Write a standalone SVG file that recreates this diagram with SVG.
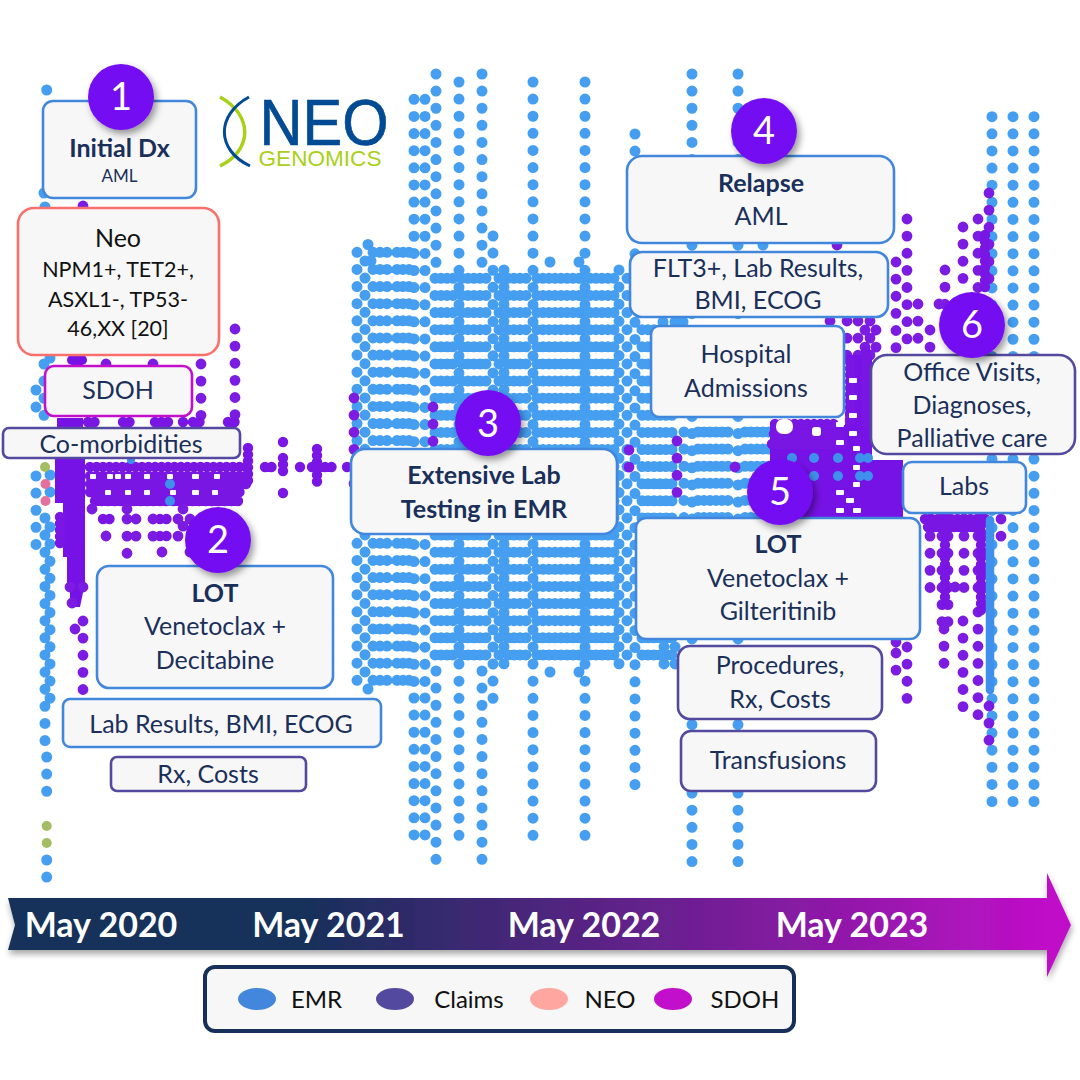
<svg xmlns="http://www.w3.org/2000/svg" width="1080" height="1080" viewBox="0 0 1080 1080">
<style>
text{font-family:Lato,"Noto Sans",sans-serif;fill:#1A2F5A;text-anchor:middle;font-size:25px}
.b{font-weight:700}
.e,.p,.pr{fill:none;stroke-linecap:round}
.e{stroke:#459EF0;stroke-width:11;stroke-dasharray:0 17.12}
.p{stroke:#7C1CE2;stroke-width:10.8;stroke-dasharray:0 17.12}
.pr{stroke:#7A16E4;stroke-width:10.4;stroke-dasharray:0 6.5}
.s{fill:#7612E6}
.h{fill:#fff}
.u{fill:#3E90EC}
.box{fill:#F7F7F7;stroke-width:2.6}
.emr{stroke:#4287DC}.cl{stroke:#534A9F}.ne{stroke:#F96F6B}.sd{stroke:#C20FCB}
.num{fill:#7510F2;filter:url(#sh)}
.dg{fill:#fff;font-size:38px}
.tl{fill:#fff;font-weight:700;font-size:34px}
.lg{fill:#111;font-size:24px}
.nt{font-size:21.5px;fill:#111}
</style>
<defs>
<filter id="sh" x="-30%" y="-30%" width="170%" height="170%"><feDropShadow dx="3" dy="4" stdDeviation="3.5" flood-color="#000" flood-opacity=".4"/></filter>
<filter id="sh2" x="-5%" y="-30%" width="110%" height="170%"><feDropShadow dx="1" dy="4" stdDeviation="3" flood-color="#000" flood-opacity=".35"/></filter>
<linearGradient id="ag" x1="8" x2="1071" y1="0" y2="0" gradientUnits="userSpaceOnUse"><stop offset=".28" stop-color="#17305A"/><stop offset=".98" stop-color="#C00FC8"/></linearGradient>
</defs>

<g id="dots-emr">
<path class="e" d="M357 252.3V682M373 252.3V682M380 252.3V682M387 252.3V682M397 252.3V682M403 252.3V682M409 252.3V682M414 99.3V682M425 99.3V682"/>
<path class="e" d="M365 261V672M371 261V262M368 244.5V245M368 689V690"/>
<path class="e" d="M414 698V835M425 698V835"/>
<path class="e" d="M436 74V263M436 671V862M482 74V263M482 671V862M459 82V850M533 82V850M585 82V850M493 236V699M504 270V664M619 270V664M635 134V801M692 74V862M738 74V862M550 262V263M579 262V263M550 672V673M579 672V673M664 527V664M675 527V664M763 245V246"/>
<path class="e" d="M435 278.3V656M441 278.3V656M447 278.3V656M453 278.3V656M462 278.3V656M468 278.3V656M474 278.3V656M480 278.3V656M486 278.3V656M499 278.3V656M508 278.3V656M514 278.3V656M520 278.3V656M526 278.3V656M537 278.3V656M543 278.3V656M549 278.3V656M555 278.3V656M561 278.3V656M567 278.3V656M573 278.3V656M579 278.3V656M582 278.3V656M590 278.3V656M596 278.3V656M602 278.3V656M608 278.3V656M614 278.3V656M627 278.3V656M642 278.3V656M648 278.3V656M654 278.3V656M660 278.3V656M666 278.3V656M672 278.3V656"/>
<path class="e" d="M684 432V520M698 432V520M704 432V520M710 432V520M716 432V520M722 432V520M728 432V520M745 432V520M751 432V520M757 432V520M763 432V520M769 432V520"/>
<path class="e" d="M663 322V323M675 322V323M683 322V323"/>
<path class="e" d="M992 116.7V818M1013 116.7V818M1034 116.7V818"/>
<path class="e" d="M36 390V424M36 476V545M44 364V417M50 475V493M50 527V699M45 518V742M46.7 757V793M46.7 860V878M46.7 90V91M44 193V194M45 207V208M50 358V359"/>
</g>
<g id="dots-claims">
<path class="p" d="M235 329V417M201 364V417M106 364V365M153 364V365M907 219V340M896 262V348M918 304V340M945 270V305M963 227V280M978 219V288M989 193V290M837 245V246M930 330V348M939 304V305"/>
<path class="p" d="M629 450V468M677 441V502M735 467V468M354 398V500M433 407V442"/>
<path class="p" d="M830 321V322M847 321V356M858 321V356M870 321V356M865 330V348M876 330V348"/>
<path class="p" d="M907 647V715M896 642V643M896 653V673M944 629V665M963 621V707M978 612V715M989 706V742M1001 519V553"/>
<path class="p" d="M930 519V604M942 519V630M948 519V630M955 587V604M964 519V604M978 519V604M985 519V612"/>
<path class="pr" d="M925 519H985M928 527H975M945 519V605M981 519V612M985 235V290"/>
<path class="s" d="M847 355H872V460H903V518H792L770 510V425H845Z"/>
<path class="pr" d="M775 424H840M774 434H845M772 444H845M850 362V425M866 352V425"/>
<rect class="h" x="776" y="419" width="17" height="15" rx="7"/>
<rect class="h" x="812" y="427" width="9" height="9" rx="3"/><rect class="h" x="836" y="422" width="8" height="5" rx="1"/><rect class="h" x="836" y="440" width="8" height="5" rx="1"/>
<rect class="h" x="849" y="378" width="8" height="5" rx="1"/><rect class="h" x="849" y="395" width="8" height="5" rx="1"/><rect class="h" x="849" y="413" width="8" height="5" rx="1"/><rect class="h" x="849" y="431" width="8" height="5" rx="1"/>
<rect class="h" x="853" y="446" width="7" height="5" rx="1"/><rect class="h" x="853" y="465" width="7" height="5" rx="1"/><rect class="h" x="853" y="482" width="7" height="5" rx="1"/>
<rect class="h" x="836" y="490" width="8" height="5" rx="1"/><rect class="h" x="846" y="498" width="8" height="5" rx="1"/><rect class="h" x="836" y="508" width="8" height="5" rx="1"/><rect class="h" x="853" y="508" width="8" height="5" rx="1"/>
<path class="s" d="M55 440H85V583L80 607H70V583H67V557H63V503H55Z"/>
<rect class="s" x="57" y="418" width="26" height="12"/>
<rect class="s" x="67" y="355" width="20" height="10" rx="5"/>
<path class="pr" d="M60 517V547M90 467H250M90 476H250M90 484H250M90 492H240M95 501H240M88 422H97M123 422H133M155 422H170M183 422H188M193 422H201M228 422H240M103 519H113M160 519H167M160 536H167M265 467H272M312 467H333"/>
<g class="h"><rect x="90" y="474" width="6" height="5" rx="1"/><rect x="107" y="474" width="6" height="5" rx="1"/><rect x="115" y="474" width="6" height="5" rx="1"/><rect x="125" y="474" width="6" height="5" rx="1"/><rect x="144" y="474" width="6" height="5" rx="1"/><rect x="167" y="474" width="6" height="5" rx="1"/><rect x="192" y="474" width="7" height="5" rx="1"/><rect x="214" y="474" width="6" height="5" rx="1"/>
<rect x="105" y="490" width="6" height="5" rx="1"/><rect x="125" y="490" width="6" height="5" rx="1"/><rect x="144" y="490" width="6" height="5" rx="1"/><rect x="170" y="490" width="6" height="5" rx="1"/><rect x="192" y="490" width="7" height="5" rx="1"/><rect x="212" y="490" width="6" height="5" rx="1"/></g>
<path class="pr" d="M283 442V443M283 458V477M283 493V494M317 449V485M300 467V468M347 467V468M248 448V484"/>
<path class="p" d="M92 509V510M127 509V510M183 509V527M127 519V560M136 519V553M153 519V553M162 552V553M178 519V553M190 519V520M190 552V553M106 536V553M83 621V690M72 603V604M83 587V588M70 587V588M75 629V630"/>
<path class="p" d="M83 206V207"/>
</g>
<g id="dots-other">
<circle class="u" cx="170" cy="484" r="5"/><circle class="u" cx="170" cy="501" r="5"/><circle class="u" cx="131" cy="460" r="4"/>
<circle class="u" cx="814" cy="458" r="5"/><circle class="u" cx="838" cy="458" r="5"/><circle class="u" cx="860" cy="458" r="5"/><circle class="u" cx="868" cy="458" r="5"/><circle class="u" cx="792" cy="458" r="5"/>
<circle class="u" cx="814" cy="476" r="5"/><circle class="u" cx="838" cy="476" r="5"/><circle class="u" cx="860" cy="476" r="5"/><circle class="u" cx="868" cy="476" r="5"/>
<path d="M990 520V690" stroke="#3E90EC" stroke-width="8.500" stroke-linecap="round" fill="none"/>
<circle cx="45" cy="467" r="5" fill="#A3BD62"/><circle cx="45.500" cy="484" r="5" fill="#E4709F"/><circle cx="45.500" cy="501" r="5" fill="#E4709F"/>
<circle cx="46.700" cy="826" r="5" fill="#A3BD62"/><circle cx="46.700" cy="843" r="5" fill="#A3BD62"/>
</g>

<g id="logo">
<path d="M220 97C253 115 253 150 220 166" fill="none" stroke="#A9D018" stroke-width="3.500"/>
<path d="M249 97C216 115 216 150 250 166" fill="none" stroke="#004B93" stroke-width="3"/>
<text x="324" y="145" textLength="129" lengthAdjust="spacingAndGlyphs" style="font-family:'Liberation Sans',sans-serif;font-size:65px;fill:#004B93;stroke:#004B93;stroke-width:.7">NEO</text>
<text x="320" y="166" textLength="123" lengthAdjust="spacingAndGlyphs" style="font-family:'Liberation Sans',sans-serif;font-size:22px;fill:#A9D018">GENOMICS</text>
</g>

<g id="node-initial"><rect class="box emr" x="43" y="101" width="153" height="97" rx="10"/><text class="b" x="119.500" y="157">Initial Dx</text><text x="119.500" y="182" style="font-size:17px">AML</text></g>
<g id="node-neo"><rect class="box ne" x="18" y="208" width="201" height="147" rx="16"/><text x="118" y="247" style="fill:#111">Neo</text><text class="nt" x="118" y="277">NPM1+, TET2+,</text><text class="nt" x="118" y="307">ASXL1-, TP53-</text><text class="nt" x="118" y="336">46,XX [20]</text></g>
<g id="node-sdoh"><rect class="box sd" x="45" y="366" width="147" height="50" rx="9"/><text x="118" y="399">SDOH</text></g>
<g id="node-comorb"><rect class="box cl" x="3" y="428" width="237" height="30" rx="6"/><text x="121" y="453">Co-morbidities</text></g>
<g id="node-lot1"><rect class="box emr" x="97" y="566" width="236" height="122" rx="12"/><text class="b" x="215" y="602">LOT</text><text x="215" y="635">Venetoclax +</text><text x="215" y="669">Decitabine</text></g>
<g id="node-lab1"><rect class="box emr" x="63" y="699" width="318" height="48" rx="7"/><text x="221" y="733">Lab Results, BMI, ECOG</text></g>
<g id="node-rx1"><rect class="box cl" x="111" y="757" width="195" height="34" rx="6"/><text x="208" y="783">Rx, Costs</text></g>
<g id="node-ext"><rect class="box emr" x="351" y="449" width="266" height="85" rx="14"/><text class="b" x="484" y="484">Extensive Lab</text><text class="b" x="484" y="518">Testing in EMR</text></g>
<g id="node-relapse"><rect class="box emr" x="627" y="156" width="267" height="87" rx="15"/><text class="b" x="761" y="192">Relapse</text><text x="761" y="225">AML</text></g>
<g id="node-flt3"><rect class="box emr" x="630" y="252" width="258" height="65" rx="12"/><text x="758" y="277">FLT3+, Lab Results,</text><text x="758" y="309">BMI, ECOG</text></g>
<g id="node-hosp"><rect class="box emr" x="651" y="326" width="193" height="91" rx="8"/><text x="746" y="363">Hospital</text><text x="746" y="397">Admissions</text></g>
<g id="node-office"><rect class="box cl" x="871" y="355" width="204" height="99" rx="16"/><text x="972" y="381">Office Visits,</text><text x="972" y="414">Diagnoses,</text><text x="972" y="447">Palliative care</text></g>
<g id="node-labs"><rect class="box emr" x="903" y="462" width="123" height="51" rx="9"/><text x="964" y="495">Labs</text></g>
<g id="node-lot2"><rect class="box emr" x="636" y="518" width="284" height="121" rx="10"/><text class="b" x="778" y="553">LOT</text><text x="778" y="587">Venetoclax +</text><text x="778" y="620">Gilteritinib</text></g>
<g id="node-proc"><rect class="box cl" x="678" y="646" width="204" height="73" rx="12"/><text x="780" y="674">Procedures,</text><text x="780" y="708">Rx, Costs</text></g>
<g id="node-transf"><rect class="box cl" x="681" y="731" width="195" height="60" rx="10"/><text x="778" y="769">Transfusions</text></g>

<g id="badge-1"><circle class="num" cx="121" cy="97" r="33"/><text class="dg" x="121" y="110">1</text></g>
<g id="badge-2"><circle class="num" cx="218" cy="540" r="33"/><text class="dg" x="218" y="553">2</text></g>
<g id="badge-3"><circle class="num" cx="488" cy="423" r="33"/><text class="dg" x="488" y="437">3</text></g>
<g id="badge-4"><circle class="num" cx="764" cy="131" r="33"/><text class="dg" x="764" y="144">4</text></g>
<g id="badge-5"><circle class="num" cx="780" cy="492" r="33"/><text class="dg" x="780" y="505">5</text></g>
<g id="badge-6"><circle class="num" cx="972" cy="325" r="33"/><text class="dg" x="972" y="338">6</text></g>

<g id="timeline">
<path d="M8 898H1047V873L1071 925L1047 977V950H8L15 925Z" fill="url(#ag)" filter="url(#sh2)"/>
<text class="tl" x="101" y="937">May 2020</text><text class="tl" x="328.500" y="937">May 2021</text><text class="tl" x="584" y="937">May 2022</text><text class="tl" x="852" y="937">May 2023</text>
</g>
<g id="legend">
<rect x="205" y="967" width="589" height="64" rx="10" fill="#F7F7F7" stroke="#17305A" stroke-width="4"/>
<ellipse cx="257" cy="999" rx="19" ry="11" fill="#4287DC"/><text class="lg" x="316.500" y="1008">EMR</text>
<ellipse cx="395" cy="999" rx="19" ry="11" fill="#534A9F"/><text class="lg" x="469" y="1008">Claims</text>
<ellipse cx="549" cy="999" rx="19" ry="11" fill="#FFA6A0"/><text class="lg" x="610" y="1008">NEO</text>
<ellipse cx="673" cy="999" rx="19" ry="11" fill="#C20FCB"/><text class="lg" x="745" y="1008">SDOH</text>
</g>
</svg>
